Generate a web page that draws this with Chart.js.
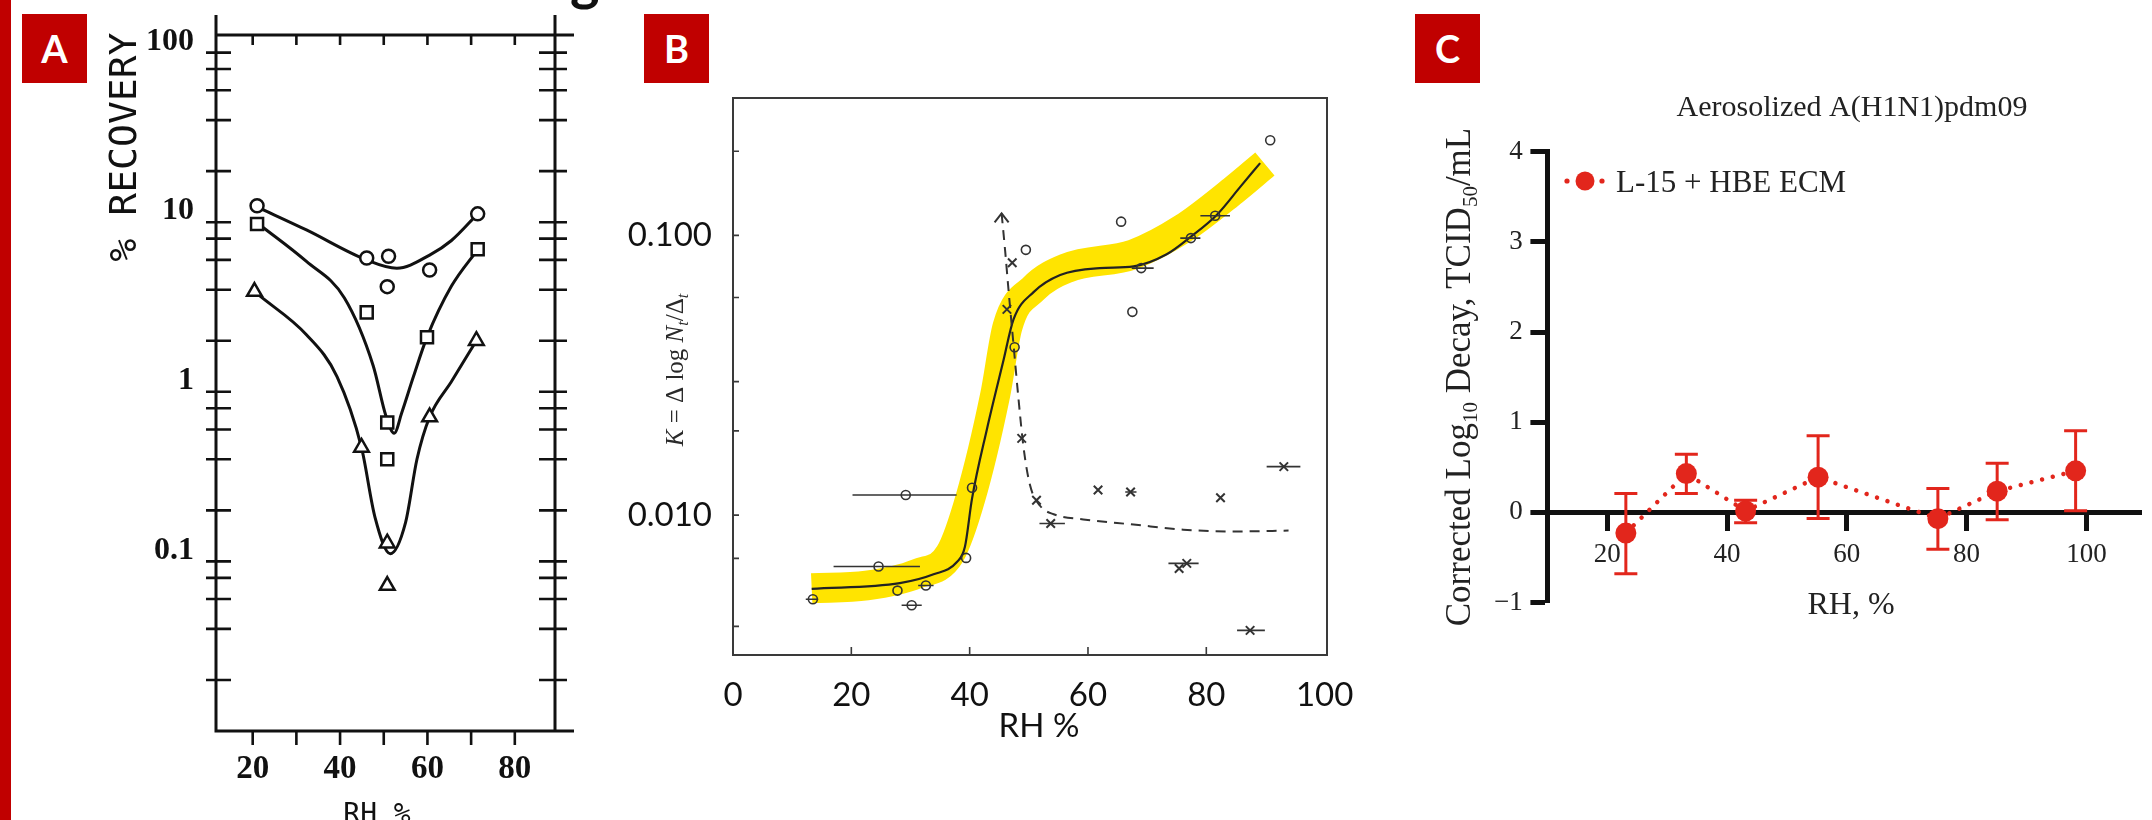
<!DOCTYPE html>
<html>
<head>
<meta charset="utf-8">
<title>Relative humidity and influenza virus survival</title>
<script src="https://cdn.jsdelivr.net/npm/chart.js@4.4.1/dist/chart.umd.min.js"></script>
<style>
  html, body { margin:0; padding:0; background:#ffffff; }
  body { position:relative; width:2152px; height:820px; overflow:hidden; }
  canvas { position:absolute; top:0; }
  .tag { position:absolute; top:14px; width:65px; height:69px; background:#C00000; color:#ffffff;
         font:bold 38px Lato, "Open Sans", sans-serif; line-height:69px; text-align:center; }
  #redbar { position:absolute; left:0; top:0; width:11px; height:820px; background:#C00000; }
  #gclip { position:absolute; left:560px; top:0; width:50px; height:14px; overflow:hidden; }
  #gclip span { position:absolute; left:10px; top:-52px; font:bold 56px/62px Lato, sans-serif; color:#111; }
</style>
</head>
<body>
<canvas id="cA" width="600" height="820" style="left:0px"></canvas>
<canvas id="cB" width="780" height="820" style="left:600px"></canvas>
<canvas id="cC" width="772" height="820" style="left:1380px"></canvas>
<div id="redbar"></div>
<div id="gclip"><span>g</span></div>
<div class="tag" style="left:22px">A</div>
<div class="tag" style="left:644px">B</div>
<div class="tag" style="left:1415px">C</div>
<script>
// ================= PANEL A data =================
const aYTicks  = [0.02,0.04,0.06,0.08,0.1,0.2,0.4,0.6,0.8,1,2,4,6,8,10,20,40,60,80,100];
const aYLabels = [0.1, 1, 10, 100];
const aXTicks  = [20,30,40,50,60,70,80];
const aXLabels = [20,40,60,80];
const aYTitle = '% RECOVERY';
const aXTitle = 'RH %';
// measured points
const aCircRH  = [21.0, 46.1, 51.1, 50.8, 60.5, 71.5];
const aCircRec = [12.5, 6.15, 6.3, 4.17, 5.22, 11.2];
const aSqRH    = [21.0, 46.1, 50.8, 50.8, 59.9, 71.5];
const aSqRec   = [9.76, 2.94, 0.66, 0.40, 2.1, 6.93];
const aTriRH   = [20.4, 44.9, 50.8, 50.8, 60.5, 71.2];
const aTriRec  = [3.9, 0.47, 0.128, 0.072, 0.71, 2.0];
// drawn curves
const aFitCircRH  = [21.0, 32.3, 46.0, 53.0, 60.5, 65.5, 71.5];
const aFitCircRec = [12.3, 9.0, 6.0, 5.35, 6.4, 7.8, 11.2];
const aFitSqRH    = [21.5, 32.3, 41.0, 47.6, 50.5, 52.4, 54.1, 56.8, 59.9, 65.5, 71.5];
const aFitSqRec   = [9.7, 5.87, 3.57, 1.42, 0.72, 0.57, 0.75, 1.23, 2.1, 4.2, 6.9];
const aFitTriRH   = [21.5, 32.3, 39.3, 44.9, 48.0, 51.5, 55.0, 57.6, 60.5, 65.5, 71.2];
const aFitTriRec  = [3.7, 2.17, 1.23, 0.47, 0.182, 0.111, 0.17, 0.40, 0.71, 1.15, 2.0];

// ================= PANEL B data =================
const bYTicks  = [0.004, 0.007, 0.01, 0.02, 0.03, 0.06, 0.1, 0.2];
const bYLabels = {0.01: '0.010', 0.1: '0.100'};
const bXTicks  = [0, 20, 40, 60, 80, 100];
const bXInner  = [20, 40, 60, 80];
const bXTitle = 'RH %';
const bCircRH = [13.5, 24.6, 29.2, 27.8, 30.2, 32.6, 39.4, 40.4, 47.6, 49.5, 65.6, 67.5, 69.0, 77.4, 81.5, 90.8];
const bCircK  = [0.0050, 0.00655, 0.0118, 0.00537, 0.00476, 0.0056, 0.00703, 0.01253, 0.0398, 0.0888, 0.112, 0.0533, 0.0764, 0.0978, 0.1176, 0.219];
const bCircLo = [12.3, 17.0, 20.2, null, 28.5, 31.3, null, null, null, null, null, null, 67.4, 75.6, 79.0, null];
const bCircHi = [14.4, 31.6, 37.8, null, 31.9, 33.9, null, null, null, null, null, null, 71.1, 79.0, 84.0, null];
const bCrossRH = [47.2, 46.3, 48.8, 51.3, 53.7, 61.7, 67.2, 75.4, 76.7, 82.4, 87.4, 93.1];
const bCrossK  = [0.0798, 0.0544, 0.0188, 0.0113, 0.00933, 0.0123, 0.0121, 0.00644, 0.00672, 0.01154, 0.00387, 0.0149];
const bCrossLo = [null, null, null, null, 51.8, null, 66.3, null, 73.6, null, 85.2, 90.2];
const bCrossHi = [null, null, null, null, 56.1, null, 68.2, null, 78.7, null, 89.9, 95.9];
const bFitRH = [13.3, 28.2, 33.9, 37.8, 39.2, 40.4, 42.9, 45.7, 47.4, 50.8, 55.3, 62.0, 67.7, 73.3, 77.3, 81.8, 85.7, 89.1];
const bFitK  = [0.00545, 0.00571, 0.00614, 0.00678, 0.0077, 0.01145, 0.0202, 0.0356, 0.05, 0.0627, 0.0722, 0.0764, 0.0775, 0.0856, 0.0986, 0.1186, 0.1488, 0.1814];
const bBandRH = [13.3, 22.6, 31.1, 36.7, 40.1, 44.3, 46.4, 50.8, 56.4, 67.7, 76.1, 84.5, 89.9];
const bBandK  = [0.00548, 0.0056, 0.00617, 0.00727, 0.01145, 0.0268, 0.0472, 0.0645, 0.0764, 0.0856, 0.1059, 0.1445, 0.18];
const bDashRH = [45.4, 46.0, 46.6, 47.4, 48.2, 49.1, 50.2, 51.9, 54.2, 59.2, 67.7, 76.1, 84.5, 93.9];
const bDashK  = [0.12, 0.088, 0.0627, 0.041, 0.0268, 0.0175, 0.0128, 0.0108, 0.01007, 0.00965, 0.00925, 0.00887, 0.00874, 0.0088];

// ================= PANEL C data =================
const cTitle = 'Aerosolized A(H1N1)pdm09';
const cLabel = 'L-15 + HBE ECM';
const cXTitle = 'RH, %';
const cYTicks = [-1, 0, 1, 2, 3, 4];
const cXTicks = [20, 40, 60, 80, 100];
const cRH      = [23.1, 33.2, 43.1, 55.2, 75.2, 85.1, 98.2];
const cDecay   = [-0.23, 0.43, 0.015, 0.39, -0.07, 0.235, 0.46];
const cErrHigh = [0.21, 0.645, 0.135, 0.85, 0.265, 0.545, 0.905];
const cErrLow  = [-0.68, 0.21, -0.115, -0.068, -0.41, -0.082, 0.018];

// ================= helpers =================
const RED = '#E2261C';
const pts = (xs, ys) => xs.map((x, i) => ({x: x, y: ys[i]}));
Chart.defaults.color = '#111';
Chart.defaults.font.family = '"Liberation Serif", serif';

function rich(ctx, segs, bx, cy, rot) {
  ctx.save();
  ctx.translate(bx, cy);
  ctx.rotate(rot);
  let w = 0;
  segs.forEach(s => { ctx.font = s.font; s.w = ctx.measureText(s.t).width; w += s.w; });
  let x = -w / 2;
  ctx.textAlign = 'left';
  ctx.textBaseline = 'alphabetic';
  segs.forEach(s => { ctx.font = s.font; ctx.fillText(s.t, x, s.dy || 0); x += s.w; });
  ctx.restore();
}

// ================= PANEL A =================
const aDecor = {
  id: 'aDecor',
  beforeDatasetsDraw(chart) {
    const {ctx, chartArea: ca, scales: {x, y}} = chart;
    ctx.save();
    ctx.strokeStyle = '#111';
    ctx.lineCap = 'butt';
    ctx.lineWidth = 3;
    ctx.beginPath();
    ctx.moveTo(ca.left, 15); ctx.lineTo(ca.left, ca.bottom + 1.5);
    ctx.moveTo(ca.right, 15); ctx.lineTo(ca.right, ca.bottom + 1.5);
    ctx.moveTo(ca.left - 1.5, ca.bottom); ctx.lineTo(ca.right + 19, ca.bottom);
    ctx.moveTo(ca.left - 1.5, ca.top); ctx.lineTo(ca.right + 19, ca.top);
    ctx.stroke();
    ctx.lineWidth = 2.6;
    ctx.beginPath();
    y.ticks.forEach(t => {
      const p = y.getPixelForValue(t.value);
      ctx.moveTo(ca.left - 10, p); ctx.lineTo(ca.left + 15, p);
      ctx.moveTo(ca.right - 16, p); ctx.lineTo(ca.right + 12, p);
    });
    x.ticks.forEach(t => {
      const p = x.getPixelForValue(t.value);
      ctx.moveTo(p, ca.bottom); ctx.lineTo(p, ca.bottom + 14);
      ctx.moveTo(p, ca.top); ctx.lineTo(p, ca.top + 10);
    });
    ctx.stroke();
    ctx.restore();
  },
  afterDraw(chart) {
    const ctx = chart.ctx;
    ctx.save();
    ctx.fillStyle = '#111';
    rich(ctx, [{t: aYTitle, font: '38px "DejaVu Sans Mono", monospace'}], 136, 147, -Math.PI / 2);
    ctx.font = '28px "DejaVu Sans Mono", monospace';
    ctx.textAlign = 'center';
    ctx.textBaseline = 'alphabetic';
    ctx.fillText(aXTitle, 377, 823);
    ctx.restore();
  }
};

const aLine = (data) => ({data: data, showLine: true, pointRadius: 0, borderColor: '#111', borderWidth: 3,
  cubicInterpolationMode: 'monotone', fill: false, order: 2});
const aMark = (data, style, r) => ({data: data, showLine: false, pointStyle: style, pointRadius: r,
  borderColor: '#111', backgroundColor: '#fff', pointBorderWidth: 2.5, pointBackgroundColor: '#fff',
  pointBorderColor: '#111', order: 0});

new Chart(document.getElementById('cA'), {
  type: 'scatter',
  data: {
    datasets: [
      Object.assign(aLine(pts(aFitCircRH, aFitCircRec)), {label: 'circle curve'}),
      Object.assign(aLine(pts(aFitSqRH, aFitSqRec)), {label: 'square curve'}),
      Object.assign(aLine(pts(aFitTriRH, aFitTriRec)), {label: 'triangle curve'}),
      Object.assign(aMark(pts(aCircRH, aCircRec), 'circle', 6.5), {label: 'circles'}),
      Object.assign(aMark(pts(aSqRH, aSqRec), 'rect', 8.5), {label: 'squares'}),
      Object.assign(aMark(pts(aTriRH, aTriRec), 'triangle', 8.5), {label: 'triangles'})
    ]
  },
  options: {
    responsive: false, animation: false, events: [],
    layout: {padding: {top: 35, right: 45, bottom: 0, left: 0}},
    plugins: {legend: {display: false}, tooltip: {enabled: false}},
    scales: {
      x: {
        type: 'linear', min: 11.6, max: 89.2,
        afterFit: s => { s.height = 89; },
        afterBuildTicks: s => { s.ticks = aXTicks.map(v => ({value: v})); },
        grid: {display: false, drawTicks: true, tickLength: 22},
        border: {display: false},
        ticks: {padding: 0, autoSkip: false, maxRotation: 0, minRotation: 0, color: '#111',
          font: {family: '"Liberation Serif", serif', size: 33, weight: 'bold', lineHeight: 1},
          callback: v => aXLabels.includes(v) ? String(v) : ''}
      },
      y: {
        type: 'logarithmic', min: 0.01, max: 127,
        afterFit: s => { s.width = 216; },
        afterBuildTicks: s => { s.ticks = aYTicks.map(v => ({value: v})); },
        grid: {display: false, drawTicks: true, tickLength: 22},
        border: {display: false},
        ticks: {padding: 0, labelOffset: -11, autoSkip: false, color: '#111',
          font: {family: '"Liberation Serif", serif', size: 32, weight: 'bold', lineHeight: 1},
          callback: v => aYLabels.includes(v) ? String(v) : ''}
      }
    }
  },
  plugins: [aDecor]
});

// ================= PANEL B =================
const bDecor = {
  id: 'bDecor',
  beforeDatasetsDraw(chart) {
    const {ctx, chartArea: ca, scales: {x, y}} = chart;
    ctx.save();
    ctx.strokeStyle = '#3a3a3a';
    ctx.lineWidth = 2;
    ctx.strokeRect(ca.left, ca.top, ca.right - ca.left, ca.bottom - ca.top);
    ctx.lineWidth = 1.6;
    ctx.beginPath();
    bYTicks.forEach(v => { const p = y.getPixelForValue(v); ctx.moveTo(ca.left, p); ctx.lineTo(ca.left + 6, p); });
    bXInner.forEach(v => { const p = x.getPixelForValue(v); ctx.moveTo(p, ca.bottom); ctx.lineTo(p, ca.bottom - 8); });
    ctx.stroke();
    ctx.restore();
  },
  afterDatasetsDraw(chart) {
    const {ctx, scales: {x, y}} = chart;
    ctx.save();
    ctx.strokeStyle = '#333';
    ctx.lineWidth = 1.6;
    ctx.beginPath();
    const bars = (rh, k, lo, hi) => {
      rh.forEach((v, i) => {
        if (lo[i] === null) return;
        const py = y.getPixelForValue(k[i]);
        ctx.moveTo(x.getPixelForValue(lo[i]), py);
        ctx.lineTo(x.getPixelForValue(hi[i]), py);
      });
    };
    bars(bCircRH, bCircK, bCircLo, bCircHi);
    bars(bCrossRH, bCrossK, bCrossLo, bCrossHi);
    ctx.stroke();
    // arrow head at the top of the dashed curve
    const ax = x.getPixelForValue(bDashRH[0]), ay = y.getPixelForValue(bDashK[0]);
    ctx.lineWidth = 2;
    ctx.beginPath();
    ctx.moveTo(ax - 7, ay + 9); ctx.lineTo(ax, ay); ctx.lineTo(ax + 7, ay + 9);
    ctx.stroke();
    ctx.restore();
  },
  afterDraw(chart) {
    const ctx = chart.ctx;
    ctx.save();
    ctx.fillStyle = '#2a2a2a';
    const it = 'italic 25px "Liberation Serif", serif';
    const rm = '25px "Liberation Serif", serif';
    const sb = 'italic 16px "Liberation Serif", serif';
    rich(ctx, [
      {t: 'K', font: it}, {t: ' = Δ log ', font: rm}, {t: 'N', font: it}, {t: 't', font: sb, dy: 5},
      {t: '/Δ', font: rm}, {t: 't', font: sb, dy: 5}
    ], 83, 370, -Math.PI / 2);
    ctx.fillStyle = '#111';
    ctx.font = '33px Lato, sans-serif';
    ctx.textAlign = 'center';
    ctx.textBaseline = 'alphabetic';
    ctx.fillText(bXTitle, 439, 737);
    ctx.restore();
  }
};

new Chart(document.getElementById('cB'), {
  type: 'scatter',
  data: {
    datasets: [
      {label: 'highlight', data: pts(bBandRH, bBandK), showLine: true, pointRadius: 0, borderColor: '#FFE400',
        borderWidth: 30, borderCapStyle: 'butt', borderJoinStyle: 'round', cubicInterpolationMode: 'monotone',
        clip: false, order: 5},
      {label: 'fit', data: pts(bFitRH, bFitK), showLine: true, pointRadius: 0, borderColor: '#222',
        borderWidth: 2.2, cubicInterpolationMode: 'monotone', order: 3},
      {label: 'dashed', data: pts(bDashRH, bDashK), showLine: true, pointRadius: 0, borderColor: '#333',
        borderWidth: 2, borderDash: [10, 7], cubicInterpolationMode: 'monotone', order: 2},
      {label: 'circles', data: pts(bCircRH, bCircK), showLine: false, pointStyle: 'circle', pointRadius: 4.5,
        pointBorderColor: '#333', pointBackgroundColor: 'rgba(0,0,0,0)', pointBorderWidth: 1.6, order: 1},
      {label: 'crosses', data: pts(bCrossRH, bCrossK), showLine: false, pointStyle: 'crossRot', pointRadius: 6,
        pointBorderColor: '#333', pointBorderWidth: 2, order: 0}
    ]
  },
  options: {
    responsive: false, animation: false, events: [],
    layout: {padding: {top: 98, right: 53, bottom: 0, left: 0}},
    plugins: {legend: {display: false}, tooltip: {enabled: false}},
    scales: {
      x: {
        type: 'linear', min: 0, max: 100.4,
        afterFit: s => { s.height = 165; },
        afterBuildTicks: s => { s.ticks = bXTicks.map(v => ({value: v})); },
        grid: {display: false, drawTicks: true, tickLength: 24},
        border: {display: false},
        ticks: {padding: 0, autoSkip: false, maxRotation: 0, minRotation: 0, color: '#111',
          font: {family: 'Lato, sans-serif', size: 33, lineHeight: 1}}
      },
      y: {
        type: 'logarithmic', min: 0.00316, max: 0.31,
        afterFit: s => { s.width = 133; },
        afterBuildTicks: s => { s.ticks = bYTicks.map(v => ({value: v})); },
        grid: {display: false, drawTicks: true, tickLength: 21},
        border: {display: false},
        ticks: {padding: 0, autoSkip: false, color: '#111',
          font: {family: 'Lato, sans-serif', size: 33, lineHeight: 1},
          callback: v => bYLabels[v] || ''}
      }
    }
  },
  plugins: [bDecor]
});

// ================= PANEL C =================
const cDecor = {
  id: 'cDecor',
  beforeDatasetsDraw(chart) {
    const {ctx, scales: {x, y}} = chart;
    ctx.save();
    ctx.strokeStyle = RED;
    ctx.lineWidth = 3;
    ctx.lineCap = 'butt';
    ctx.beginPath();
    cRH.forEach((v, i) => {
      const px = x.getPixelForValue(v);
      const ph = y.getPixelForValue(cErrHigh[i]);
      const pl = y.getPixelForValue(cErrLow[i]);
      ctx.moveTo(px, ph); ctx.lineTo(px, pl);
      ctx.moveTo(px - 11.5, ph); ctx.lineTo(px + 11.5, ph);
      ctx.moveTo(px - 11.5, pl); ctx.lineTo(px + 11.5, pl);
    });
    ctx.stroke();
    ctx.restore();
  },
  afterDraw(chart) {
    const ctx = chart.ctx;
    ctx.save();
    // legend
    ctx.fillStyle = RED;
    ctx.beginPath(); ctx.arc(205, 181, 9.5, 0, Math.PI * 2); ctx.fill();
    ctx.beginPath(); ctx.arc(187, 181, 2.6, 0, Math.PI * 2); ctx.fill();
    ctx.beginPath(); ctx.arc(222, 181, 2.6, 0, Math.PI * 2); ctx.fill();
    ctx.fillStyle = '#222';
    ctx.font = '31px "Liberation Serif", serif';
    ctx.textAlign = 'left';
    ctx.textBaseline = 'alphabetic';
    ctx.fillText(chart.data.datasets[0].label, 236, 192);
    // title
    ctx.font = '30px "Liberation Serif", serif';
    ctx.textAlign = 'center';
    ctx.fillText(cTitle, 472, 116);
    // x title
    ctx.font = '32px "Liberation Serif", serif';
    ctx.fillText(cXTitle, 471, 614);
    // y title with subscripts
    const f = '35px "Liberation Serif", serif';
    const s = '21px "Liberation Serif", serif';
    rich(ctx, [
      {t: 'Corrected Log', font: f}, {t: '10', font: s, dy: 7}, {t: ' Decay, TCID', font: f},
      {t: '50', font: s, dy: 7}, {t: '/mL', font: f}
    ], 90, 377, -Math.PI / 2);
    ctx.restore();
  }
};

new Chart(document.getElementById('cC'), {
  type: 'scatter',
  data: {
    datasets: [
      {label: cLabel, data: pts(cRH, cDecay), showLine: true, borderColor: RED, borderWidth: 4.5,
        borderDash: [0.01, 11], borderCapStyle: 'round', tension: 0,
        pointRadius: 10.5, pointBackgroundColor: RED, pointBorderColor: RED, pointBorderWidth: 0, clip: false}
    ]
  },
  options: {
    responsive: false, animation: false, events: [],
    layout: {padding: {top: 151.7, right: 0, bottom: 217.5, left: 0}},
    plugins: {legend: {display: false}, tooltip: {enabled: false}},
    scales: {
      x: {
        type: 'linear', min: 10, max: 109.2, position: {y: 0},
        afterFit: s => { s.height = 60; },
        afterBuildTicks: s => { s.ticks = cXTicks.map(v => ({value: v})); },
        grid: {display: true, drawOnChartArea: false, drawTicks: true, tickLength: 16, tickWidth: 5, tickColor: '#111', color: '#111'},
        border: {display: true, width: 5, color: '#111'},
        ticks: {padding: 13, autoSkip: false, maxRotation: 0, minRotation: 0, color: '#222',
          font: {family: '"Liberation Serif", serif', size: 27, lineHeight: 1}}
      },
      y: {
        type: 'linear', min: -1, max: 4,
        afterFit: s => { s.width = 167.4; },
        afterBuildTicks: s => { s.ticks = cYTicks.map(v => ({value: v})); },
        grid: {display: true, drawOnChartArea: false, drawTicks: true, tickLength: 17, tickWidth: 5, tickColor: '#111', color: '#111'},
        border: {display: true, width: 5, color: '#111'},
        ticks: {padding: 7.6, autoSkip: false, color: '#222',
          font: {family: '"Liberation Serif", serif', size: 27, lineHeight: 1},
          callback: v => v < 0 ? '\u2212' + Math.abs(v) : String(v)}
      }
    }
  },
  plugins: [cDecor]
});
</script>
</body>
</html>
